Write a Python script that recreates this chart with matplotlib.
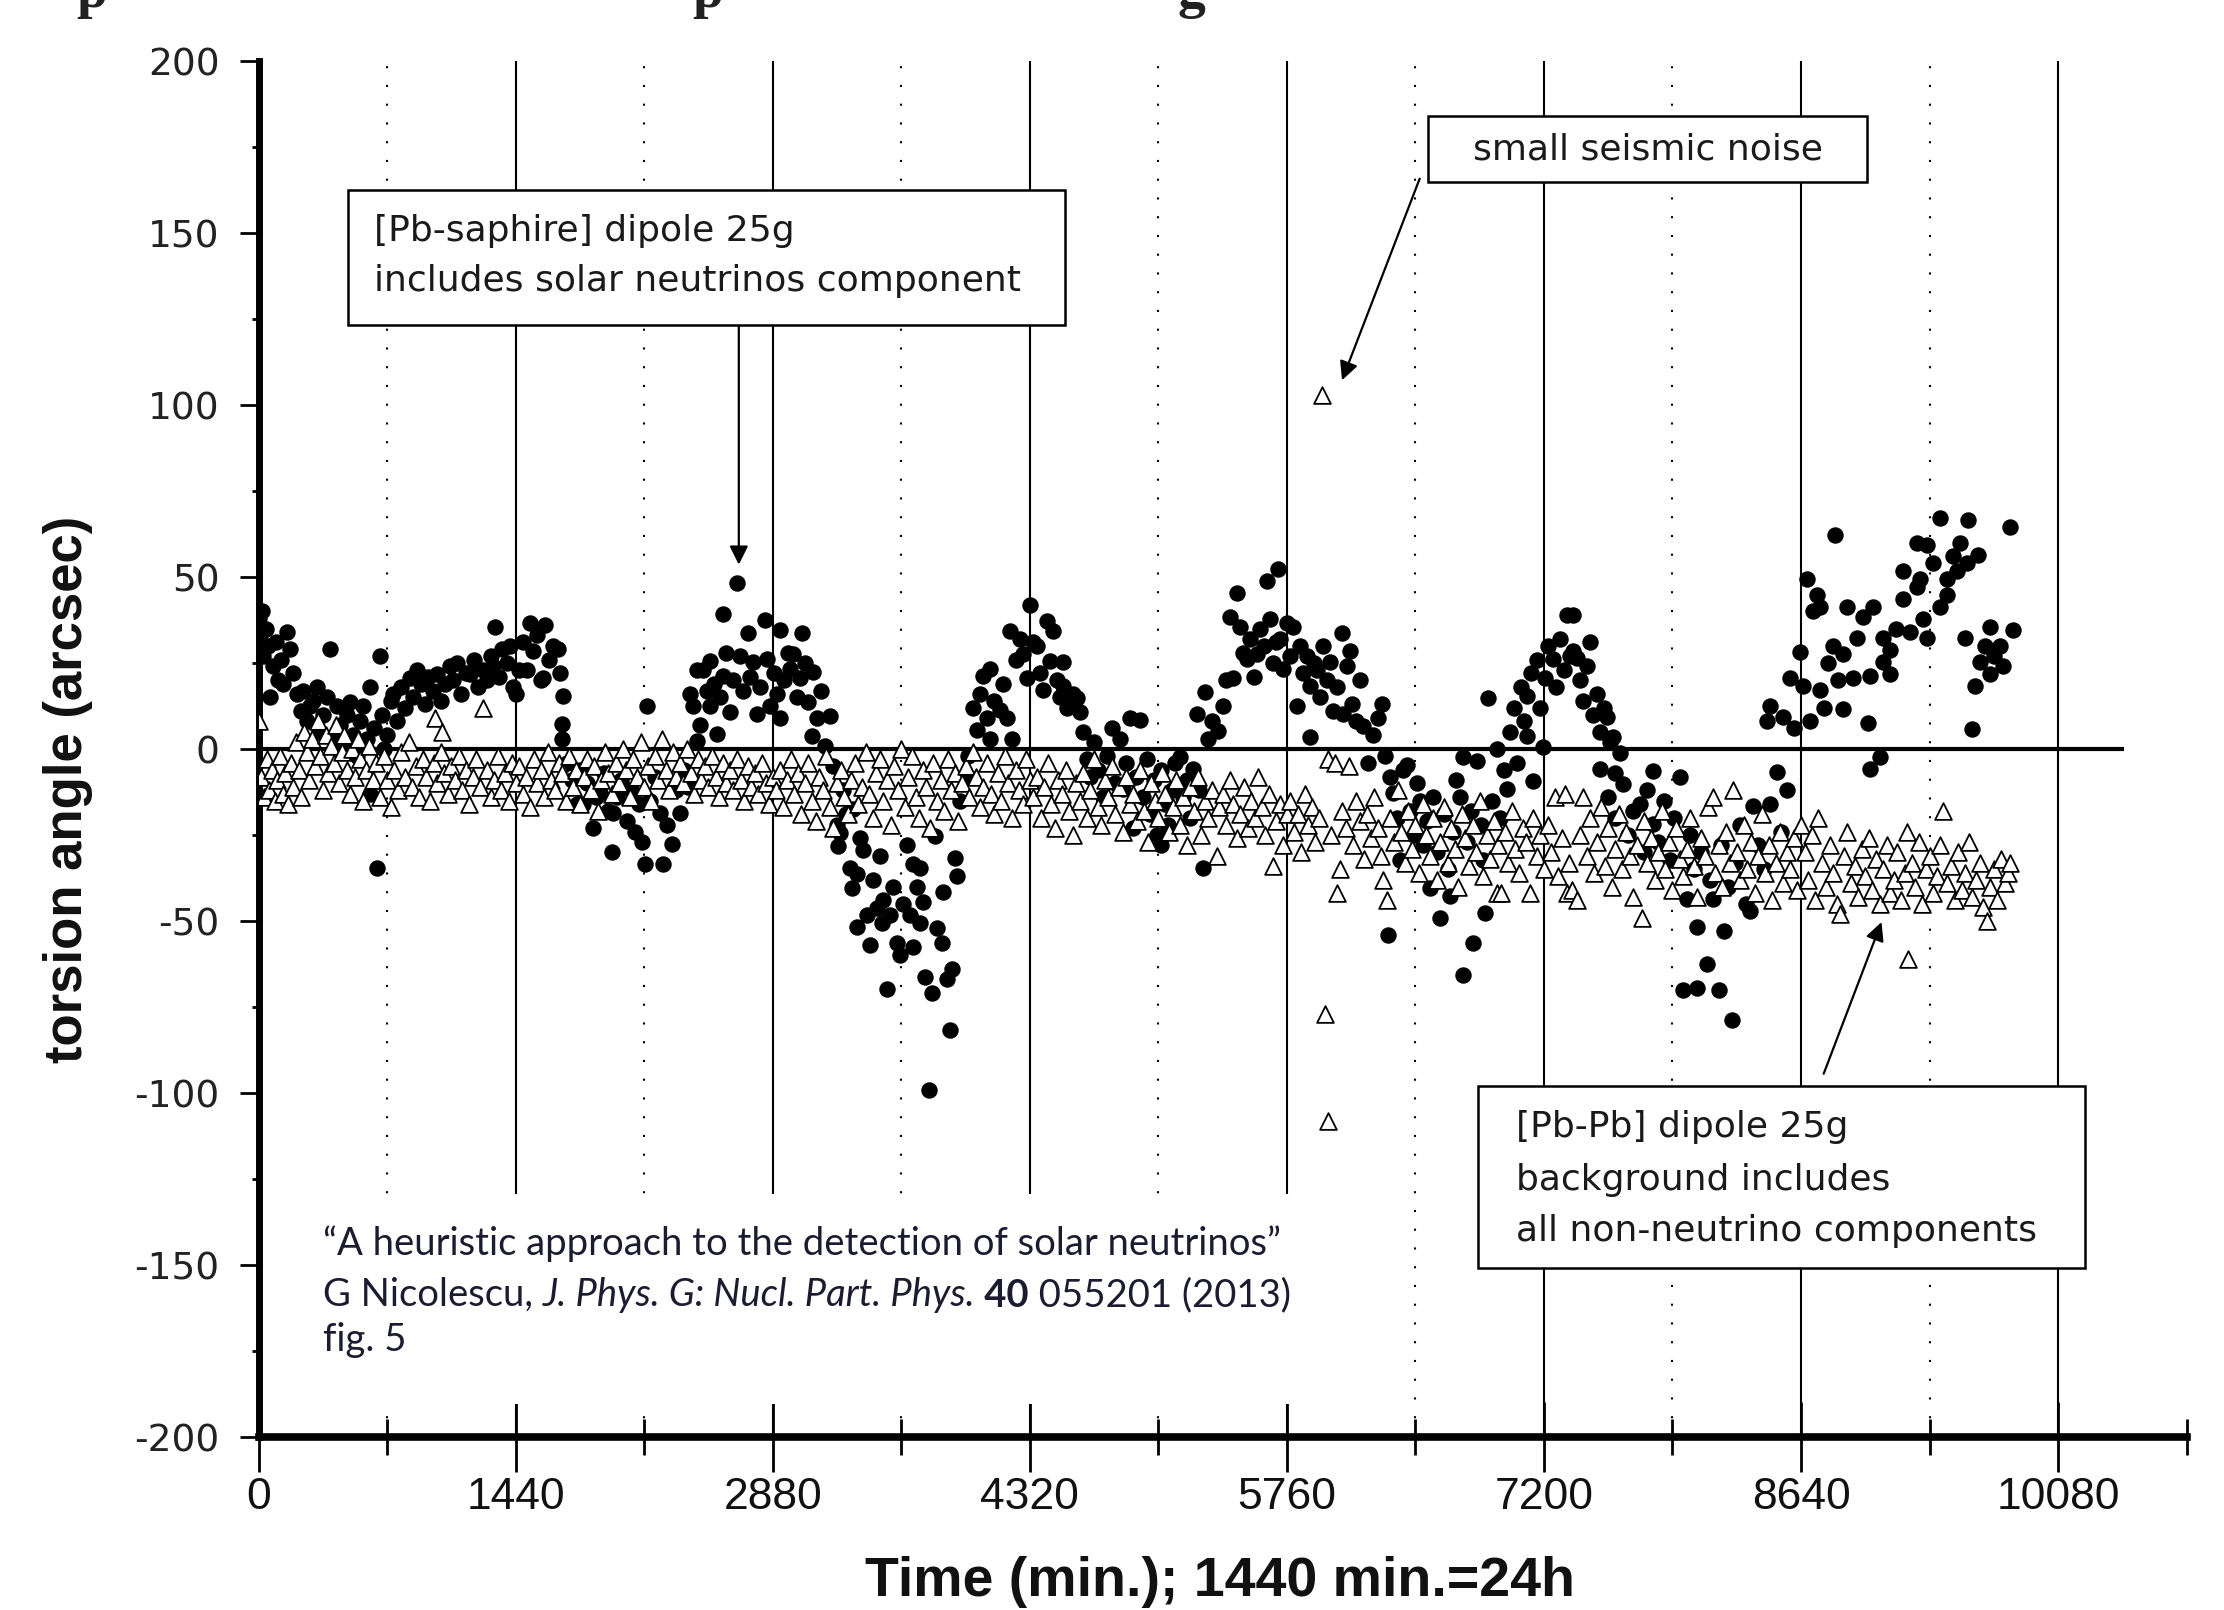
import matplotlib
matplotlib.use("Agg")
import matplotlib.pyplot as plt
from matplotlib.patches import Rectangle

plt.rcParams['axes.unicode_minus'] = False

# ---------------- data (time in min, torsion angle in arcsec) ----------------
# [Pb-saphire] dipole (filled circles)
saphire_day1 = [(0, 38), (8, 33), (17, 40), (25, 27), (40, 35), (55, 30), (64, 15), (83, 24), (95, 31),
                (110, 20), (125, 26), (139, 19), (157, 34), (176, 29), (195, 22), (215, 16), (235, 11),
                (251, 17), (270, 8), (288, 12.5), (305, 14), (325, 18), (340, 5), (360, 10), (381, 15),
                (400, 29), (415, 3), (437, 12.5), (455, 7), (475, 1), (495, 10), (512, 13.7), (530, 4),
                (550, -2), (570, 8), (587, 12.5), (605, 3), (624, 18), (625, -13), (645, 6), (661, -34.6),
                (680, 27), (690, 10), (705, 0), (720, 4), (740, 14), (755, 16), (775, 8), (800, 18),
                (820, 12), (848, 20.6), (866, 15), (886, 23), (910, 19), (930, 13), (950, 21), (975, 17),
                (998, 21.7), (1020, 14), (1045, 19), (1072, 24), (1090, 20), (1110, 25), (1135, 16),
                (1160, 22), (1184, 21.7), (1205, 26), (1230, 18), (1259, 23), (1280, 20), (1300, 27),
                (1315, 24), (1324, 35.5), (1345, 21), (1365, 29), (1390, 25), (1410, 30), (1427, 18)]
saphire_day2 = [(1440, 16), (1460, 23), (1480, 31), (1502, 23), (1520, 36.7), (1539, 28.6), (1560, 33),
                (1580, 20), (1595, 20.6), (1604, 36), (1625, 26), (1650, 30), (1679, 29), (1690, 22),
                (1707, 15.4), (1698, 7.4), (1700, 2.8), (1730, -4), (1755, -9), (1782, -16), (1800, -6),
                (1819, -16), (1840, -10), (1875, -23), (1890, -14), (1912, -12.8), (1935, -7), (1960, -18),
                (1978, -30), (1987, -18.5), (2006, -14), (2030, -9), (2062, -20.8), (2085, -12), (2110, -24),
                (2130, -16), (2146, -27), (2165, -33.4), (2174, 12.5), (2193, -15), (2220, -8), (2249, -18.5),
                (2267, -33.4), (2290, -22), (2314, -27.7), (2340, -12), (2360, -18.5), (2385, -6), (2405, -11),
                (2417, 16), (2435, 12.5), (2454, 23), (2454, 2.2), (2470, 7), (2491, 22.9), (2510, 17),
                (2529, 25.7), (2529, 12.5), (2550, 19), (2566, 4.5), (2585, 15), (2604, 39.3), (2603, 21.1),
                (2620, 28), (2641, 10.8), (2660, 20), (2678, 48.2), (2697, 26.9), (2715, 17), (2743, 33.6),
                (2750, 21), (2771, 25.2), (2790, 10.2), (2810, 18), (2837, 37.5), (2846, 26.3), (2865, 12.5)]
saphire_day3 = [(2885, 22), (2902, 16), (2921, 34.6), (2921, 9.1), (2945, 20), (2965, 28), (2977, 23.4),
                (2995, 27.5), (3015, 15), (3033, 20.6), (3042, 33.6), (3060, 25), (3080, 13.7), (3098, 3.9),
                (3108, 22.3), (3126, 9.1), (3150, 17), (3173, 1), (3201, 9.7), (3220, -5), (3238, -22),
                (3257, -24.3), (3248, -28.3), (3275, -12), (3290, -19), (3313, -34.6), (3322, -40.3),
                (3332, -17.4), (3350, -36.3), (3350, -51.8), (3370, -26), (3388, -29.4), (3406, -48.4),
                (3425, -57), (3440, -38), (3462, -46.1), (3480, -31), (3490, -50.7), (3500, -43.8),
                (3518, -69.7), (3537, -48.4), (3555, -40), (3574, -56.4), (3593, -59.9), (3610, -45),
                (3630, -28), (3649, -48.4), (3668, -33.4), (3668, -57.6), (3690, -40), (3705, -34.6),
                (3705, -50.7), (3724, -44.4), (3733, -66.2), (3757, -99), (3770, -70.8), (3789, -25.4),
                (3800, -52), (3827, -56.4), (3836, -41.5), (3854, -66.8), (3873, -81.7), (3882, -63.9),
                (3901, -31.7), (3911, -36.9), (3930, -15), (3950, -8), (3975, -2), (4004, 12), (4023, 5.6),
                (4040, 16), (4060, 21.1), (4080, 9), (4097, 23.4), (4097, 2.8), (4120, 14), (4153, 11.4),
                (4170, 19), (4190, 9.1), (4209, 34.4), (4219, 2.8), (4240, 26), (4265, 32), (4284, 27.5),
                (4303, 20.6)]
saphire_day4 = [(4321, 41.8), (4340, 31), (4359, 29.8), (4375, 22), (4396, 17.1), (4415, 37.2), (4433, 25.7),
                (4452, 34.4), (4470, 20), (4490, 15), (4508, 25.2), (4508, 18.3), (4530, 12), (4560, 16),
                (4583, 14.8), (4601, 10.8), (4620, 5), (4640, -3), (4657, -8.2), (4680, 2), (4700, -6),
                (4732, -13.9), (4755, -2), (4780, 6), (4800, -10), (4826, 2.8), (4844, -11.6), (4860, -4),
                (4881, 9.1), (4900, -23.1), (4915, -8), (4938, 8.5), (4955, -14), (4975, -3), (4995, -19),
                (5015, -9), (5035, -25), (5056, -28), (5055, -6), (5075, -16), (5095, -22), (5115, -12),
                (5135, -4), (5162, -2.4), (5180, -14), (5200, -9), (5218, -20), (5236, -5.9), (5255, 10.2),
                (5270, -12), (5292, -34.6), (5302, 16.6), (5320, 3), (5340, 8), (5376, 5.1), (5404, 12.5),
                (5420, 20), (5442, 38.4), (5460, 20.6), (5479, 45.3), (5498, 35.5), (5515, 28), (5535, 26.3),
                (5555, 32), (5575, 21), (5591, 27.5), (5610, 35), (5630, 30), (5647, 48.7), (5666, 37.8),
                (5680, 25), (5700, 31), (5713, 52.2), (5722, 32.1), (5741, 23.4)]
saphire_day5 = [(5759, 36.7), (5775, 27), (5797, 35.5), (5815, 12.5), (5834, 29.8), (5850, 22), (5870, 27),
                (5890, 18.3), (5890, 3.6), (5910, 25), (5927, 22.9), (5945, 15), (5965, 30), (5985, 20),
                (6002, 25.2), (6020, 11), (6040, 18), (6067, 33.8), (6077, 10.2), (6095, 24), (6114, 28.6),
                (6123, 13.1), (6150, 8), (6170, 20), (6189, 6.8), (6217, -4.1), (6240, 4), (6270, 9),
                (6291, 13.1), (6310, -2), (6329, -54.1), (6340, -8), (6357, -12.8), (6375, -20), (6394, -32.3),
                (6410, -6), (6431, -4.7), (6450, -18), (6470, -25), (6490, -10), (6506, -15), (6525, -28),
                (6545, -21), (6562, -40.3), (6580, -14), (6600, -30), (6618, -49), (6640, -19), (6660, -35),
                (6674, -42.6), (6690, -24), (6710, -9), (6730, -13.9), (6749, -65.6), (6749, -2.4), (6770, -27),
                (6790, -18), (6805, -56.4), (6824, -3.6), (6845, -22), (6861, -32.3), (6870, -47.8),
                (6889, 14.8), (6910, -15), (6936, 0), (6955, -20), (6975, -6), (6992, -11.6), (7010, 5),
                (7030, 12), (7050, -4), (7070, 18), (7090, 8), (7104, 15.4), (7104, 3.9), (7125, 22),
                (7141, -9.3), (7160, 26), (7180, 12), (7197, 0.5)]
saphire_day6 = [(7206, 20.6), (7225, 30), (7253, 26.3), (7270, 18), (7290, 32), (7310, 23), (7328, 39),
                (7345, 27), (7365, 28.6), (7365, 39), (7384, 26.4), (7400, 20), (7420, 14), (7440, 24),
                (7459, 31), (7475, 10), (7496, 16.1), (7515, 5), (7535, 12), (7552, 9.2), (7570, 2),
                (7589, 3.4), (7600, -7), (7627, -1.1), (7515, -5.7), (7560, -14), (7600, -20), (7645, -10.3),
                (7670, -25), (7700, -18), (7739, -16.1), (7760, -30), (7780, -12), (7813, -6.3), (7813, -21.8),
                (7840, -27), (7870, -15), (7907, -32.2), (7930, -20), (7963, -8), (7981, -70.1), (8000, -43.7),
                (8020, -25), (8040, -35), (8056, -51.7), (8056, -69.5), (8080, -30), (8112, -62.6), (8130, -38),
                (8149, -43.7), (8178, -70.1), (8190, -28), (8206, -52.9), (8230, -40), (8252, -78.7),
                (8270, -33), (8300, -22), (8330, -45), (8355, -47.1), (8373, -16.7), (8400, -28), (8430, -35),
                (8467, -16.1), (8504, -6.6), (8530, -24), (8560, -12), (8448, 8), (8467, 12.6), (8541, 9.2),
                (8579, 20.7), (8600, 6), (8635, 28.2)]
saphire_day7 = [(8654, 18.4), (8672, 49.4), (8691, 8), (8710, 40.2), (8728, 44.8), (8747, 41.4), (8747, 17.2),
                (8770, 12), (8790, 25), (8822, 29.9), (8831, 62.1), (8850, 20), (8878, 27.6), (8878, 11.5),
                (8896, 41.4), (8934, 20.7), (8952, 32.2), (8990, 38.5), (9018, 7.5), (9027, 21.3), (9027, -5.7),
                (9046, 41.4), (9083, -2.3), (9102, 32.2), (9102, 25.3), (9139, 28.7), (9139, 21.8), (9170, 35),
                (9214, 51.7), (9214, 43.7), (9251, 33.9), (9289, 59.8), (9289, 47.1), (9307, 49.4),
                (9326, 37.9), (9344, 59.2), (9344, 32.2), (9382, 54), (9419, 67.2), (9419, 41.4), (9457, 49.4),
                (9457, 44.8), (9490, 56), (9512, 51.7), (9531, 59.8), (9559, 32.2), (9569, 54), (9578, 66.7),
                (9597, 5.7), (9615, 18.4), (9634, 56.3), (9643, 25.3), (9670, 30), (9699, 35.6), (9699, 21.8),
                (9720, 27), (9755, 29.9), (9774, 24.1), (9811, 64.4), (9830, 34.5)]

# [Pb-Pb] dipole background (open triangles)
pbpb_day1 = [(0, 8), (15, -8), (30, -14), (45, -3), (60, -12), (75, -6), (90, -15), (105, -9), (120, -2),
             (135, -13), (150, -7), (165, -16), (180, -4), (195, -11), (210, 2), (225, -6), (240, -14), (255, 5),
             (270, -1), (285, -9), (300, 3), (315, -5), (330, 8), (345, -2), (360, -12), (375, 4), (390, -7),
             (405, 1), (420, -4), (435, 7), (450, -10), (465, -1), (480, 4), (495, -6), (510, -13), (525, 0),
             (540, -8), (555, 3), (570, -3), (585, -15), (600, -6), (620, 1), (640, -9), (660, -4), (680, -14),
             (700, -2), (720, -9), (740, -17), (760, -6), (780, -12), (800, -1), (820, -8), (840, 2),
             (860, -11), (880, -5), (900, -14), (920, -3), (940, -8), (960, -15), (980, -4), (990, 9),
             (1000, -10), (1020, -1), (1030, 5), (1040, -7), (1060, -13), (1080, -5), (1100, -9), (1120, -2),
             (1140, -12), (1160, -6), (1180, -16), (1200, -8), (1220, -3), (1240, -11), (1259, 12),
             (1280, -6), (1300, -14), (1320, -9), (1340, -2), (1360, -12), (1380, -7), (1400, -15),
             (1420, -4), (1440, -10)]
pbpb_day2 = [(1460, -5), (1480, -13), (1500, -8), (1520, -17), (1540, -3), (1560, -10), (1580, -6), (1600, -14),
             (1620, -1), (1640, -9), (1660, -12), (1680, -4), (1700, -7), (1720, -15), (1740, -2), (1760, -11),
             (1780, -6), (1800, -16), (1820, -8), (1840, -3), (1860, -12), (1880, -5), (1900, -18), (1920, -9),
             (1940, -1), (1960, -7), (1980, -13), (2000, -4), (2020, -10), (2040, 0), (2060, -6), (2080, -14),
             (2100, -3), (2120, -8), (2140, 2), (2160, -11), (2180, -5), (2200, -15), (2220, -2), (2240, -9),
             (2260, 3), (2280, -6), (2300, -12), (2320, -1), (2340, -8), (2360, -4), (2380, -10), (2400, 0),
             (2420, -7), (2440, -13), (2460, -3), (2480, -9), (2500, -5), (2520, -11), (2540, -2), (2560, -8),
             (2580, -14), (2600, -4), (2620, -10), (2640, -6), (2660, -12), (2680, -3), (2700, -9),
             (2720, -15), (2740, -5), (2760, -11), (2780, -7), (2800, -13), (2820, -4), (2840, -10),
             (2860, -16), (2880, -8)]
pbpb_day3 = [(2900, -12), (2920, -6), (2940, -17), (2960, -9), (2980, -3), (3000, -13), (3020, -7), (3040, -19),
             (3060, -10), (3080, -4), (3100, -15), (3120, -21), (3140, -8), (3160, -12), (3180, -2), (3200, -17),
             (3220, -23), (3240, -10), (3260, -6), (3280, -14), (3300, -19), (3320, -9), (3340, -4), (3360, -16),
             (3380, -11), (3400, -1), (3420, -13), (3440, -20), (3460, -7), (3480, -3), (3500, -15), (3520, -9),
             (3540, -22), (3560, -5), (3580, -12), (3600, 0), (3620, -17), (3640, -8), (3660, -2), (3680, -14),
             (3700, -20), (3720, -6), (3740, -11), (3760, -23), (3780, -4), (3800, -15), (3820, -9),
             (3840, -18), (3860, -3), (3880, -12), (3900, -7), (3920, -21), (3940, -10), (3960, -5),
             (3980, -14), (4000, -1), (4020, -8), (4040, -17), (4060, -11), (4080, -4), (4100, -13),
             (4120, -19), (4140, -7), (4160, -15), (4180, -2), (4200, -10), (4220, -20), (4240, -6),
             (4260, -12), (4280, -16), (4300, -3), (4320, -9)]
pbpb_day4 = [(4340, -14), (4360, -8), (4380, -20), (4400, -11), (4420, -4), (4440, -16), (4460, -23), (4480, -9),
             (4500, -13), (4520, -6), (4540, -18), (4560, -25), (4580, -10), (4600, -15), (4620, -7),
             (4640, -20), (4660, -12), (4680, -3), (4700, -17), (4720, -22), (4740, -9), (4760, -14),
             (4780, -5), (4800, -19), (4820, -11), (4840, -24), (4860, -8), (4880, -16), (4900, -13),
             (4920, -21), (4940, -6), (4960, -18), (4980, -27), (5000, -10), (5020, -15), (5040, -20),
             (5060, -7), (5080, -13), (5100, -24), (5120, -17), (5140, -9), (5160, -22), (5180, -14),
             (5200, -28), (5220, -11), (5240, -18), (5260, -8), (5280, -25), (5300, -15), (5320, -20),
             (5340, -12), (5367, -31), (5380, -17), (5400, -13), (5420, -22), (5440, -9), (5460, -16),
             (5480, -26), (5500, -19), (5520, -11), (5540, -23), (5560, -15), (5580, -20), (5600, -8),
             (5620, -17), (5640, -25), (5660, -13), (5684, -34), (5700, -21), (5720, -16), (5740, -28),
             (5760, -19)]
pbpb_day5 = [(5780, -15), (5800, -24), (5820, -19), (5840, -30), (5860, -13), (5880, -22), (5900, -17),
             (5920, -27), (5940, -20), (5958, 103), (5973, -77), (5989, -108), (5990, -3), (6010, -25),
             (6030, -4), (6039, -42), (6058, -35), (6070, -18), (6090, -23), (6110, -5), (6130, -28),
             (6150, -15), (6170, -21), (6190, -32), (6210, -19), (6230, -26), (6250, -14), (6270, -23),
             (6290, -31), (6301, -38), (6319, -44), (6340, -20), (6360, -27), (6380, -12), (6400, -24),
             (6420, -33), (6440, -18), (6460, -29), (6480, -22), (6500, -36), (6520, -16), (6540, -25),
             (6560, -31), (6580, -20), (6600, -38), (6620, -27), (6640, -17), (6660, -33), (6680, -23),
             (6700, -29), (6720, -40), (6740, -19), (6760, -26), (6780, -34), (6800, -22), (6820, -30),
             (6840, -15), (6860, -37), (6880, -25), (6900, -32), (6920, -21), (6935, -42), (6940, -28),
             (6960, -42), (6980, -24), (7000, -33), (7020, -18), (7040, -29), (7060, -36), (7080, -23),
             (7100, -27), (7122, -42), (7140, -20), (7160, -31), (7180, -25), (7200, -35)]
pbpb_day6 = [(7220, -22), (7240, -30), (7260, -14), (7280, -37), (7300, -26), (7320, -13), (7328, -42),
             (7340, -33), (7360, -41), (7384, -44), (7400, -25), (7421, -14), (7440, -31), (7460, -20),
             (7480, -36), (7500, -27), (7520, -17), (7540, -34), (7560, -23), (7580, -40), (7600, -29),
             (7620, -19), (7640, -35), (7660, -24), (7680, -31), (7700, -43), (7720, -28), (7748, -49),
             (7760, -21), (7780, -33), (7800, -26), (7820, -38), (7840, -30), (7860, -18), (7880, -35),
             (7900, -27), (7920, -41), (7940, -23), (7960, -32), (7980, -37), (8000, -29), (8020, -20),
             (8040, -34), (8060, -43), (8080, -26), (8100, -31), (8120, -17), (8149, -14), (8160, -36),
             (8180, -28), (8200, -40), (8220, -24), (8240, -33), (8261, -12), (8280, -30), (8300, -38),
             (8320, -22), (8340, -35), (8360, -27), (8380, -42), (8400, -31), (8420, -19), (8440, -36),
             (8460, -28), (8480, -44), (8500, -33), (8520, -24), (8540, -39), (8560, -30), (8580, -35),
             (8600, -26), (8620, -41), (8640, -22)]
pbpb_day7 = [(8660, -30), (8680, -38), (8700, -25), (8720, -44), (8738, -20), (8760, -33), (8780, -40),
             (8800, -28), (8820, -36), (8840, -45), (8859, -48), (8880, -31), (8900, -24), (8920, -39),
             (8940, -34), (8960, -43), (8980, -29), (9000, -37), (9020, -26), (9040, -41), (9060, -32),
             (9080, -45), (9100, -35), (9120, -28), (9140, -42), (9160, -38), (9180, -30), (9200, -44),
             (9220, -36), (9232, -24), (9241, -61), (9260, -33), (9280, -40), (9300, -27), (9320, -45),
             (9340, -35), (9360, -31), (9380, -42), (9400, -37), (9420, -28), (9438, -18), (9460, -39),
             (9480, -34), (9500, -44), (9520, -30), (9540, -41), (9560, -36), (9580, -27), (9600, -43),
             (9620, -38), (9640, -33), (9660, -46), (9680, -50), (9700, -40), (9720, -35), (9740, -44),
             (9760, -32), (9780, -39), (9800, -36), (9811, -33)]

solid_days = [1440, 2880, 4320, 5760, 7200, 8640, 10080]
dotted_halfdays = [720, 2160, 3600, 5040, 6480, 7920, 9360]
x_major = [0, 1440, 2880, 4320, 5760, 7200, 8640, 10080]
x_minor = [720, 2160, 3600, 5040, 6480, 7920, 9360, 10800]
y_major = [-200, -150, -100, -50, 0, 50, 100, 150, 200]
y_minor = [-175, -125, -75, -25, 25, 75, 125, 175]

saphire = saphire_day1 + saphire_day2 + saphire_day3 + saphire_day4 + saphire_day5 + saphire_day6 + saphire_day7
pbpb = pbpb_day1 + pbpb_day2 + pbpb_day3 + pbpb_day4 + pbpb_day5 + pbpb_day6 + pbpb_day7
sap_t = [p[0] for p in saphire]
sap_v = [p[1] for p in saphire]
pb_t = [p[0] for p in pbpb]
pb_v = [p[1] for p in pbpb]

# ---------------- figure ----------------
W, H = 2224, 1610
fig = plt.figure(figsize=(W / 100, H / 100), dpi=100)
ax = fig.add_axes([258.6 / W, 173 / H, 1928 / W, 1376 / H])
ax.set_xlim(0, 10800)
ax.set_ylim(-200, 200)

for s in ['top', 'right']:
    ax.spines[s].set_visible(False)
ax.spines['left'].set_linewidth(5)
ax.spines['bottom'].set_linewidth(5.5)

ax.set_xticks(x_major)
ax.set_xticks(x_minor, minor=True)
ax.set_xticklabels([str(v) for v in x_major], fontsize=32, family='Liberation Sans', color='#111111')
ax.set_yticks(y_major)
ax.set_yticks(y_minor, minor=True)
ax.set_yticklabels([str(v) for v in y_major], fontsize=27, family='DejaVu Sans', color='#222222')
ax.tick_params(axis='x', which='major', direction='inout', length=50, width=2, pad=4)
ax.tick_params(axis='x', which='minor', direction='inout', length=26, width=2)
ax.tick_params(axis='y', which='major', direction='out', length=14, width=2, pad=14)
ax.tick_params(axis='y', which='minor', direction='out', length=5, width=2)

for d in solid_days:
    ax.axvline(d, color='black', lw=1.5, zorder=1)
for d in dotted_halfdays:
    ax.axvline(d, color='black', lw=1.5, linestyle=(0, (1, 8)), zorder=1)
ax.hlines(0, 0, 10450, color='black', lw=3, zorder=2)

ax.scatter(sap_t, sap_v, s=140, marker='o', c='black', linewidths=0, zorder=4)
ax.scatter(pb_t, pb_v, s=145, marker='^', facecolors='white', edgecolors='black', linewidths=1.3, zorder=5)

# ---------------- annotations ----------------
box_font = dict(family='DejaVu Sans', fontsize=26, color='#1a1a1a')

ax.add_patch(Rectangle((498, 123.3), 4020, 39.2, facecolor='white', edgecolor='black', lw=1.8, zorder=6))
ax.text(649, 150.5, '[Pb-saphire] dipole 25g', va='center', ha='left', zorder=7, **box_font)
ax.text(649, 136.1, 'includes solar neutrinos component', va='center', ha='left', zorder=7, **box_font)

ax.add_patch(Rectangle((6551, 164.9), 2461, 19.0, facecolor='white', edgecolor='black', lw=1.8, zorder=6))
ax.text(7781, 174.4, 'small seismic noise', va='center', ha='center', zorder=7, **box_font)

ax.add_patch(Rectangle((6828, -150.9), 3402, 52.8, facecolor='white', edgecolor='black', lw=1.8, zorder=6))
ax.text(7042, -110.0, '[Pb-Pb] dipole 25g', va='center', ha='left', zorder=7, **box_font)
ax.text(7042, -125.4, 'background includes', va='center', ha='left', zorder=7, **box_font)
ax.text(7042, -140.2, 'all non-neutrino components', va='center', ha='left', zorder=7, **box_font)

arrow = dict(arrowstyle='-|>', color='black', lw=1.6, mutation_scale=28, shrinkA=0, shrinkB=0)
ax.annotate('', xy=(2690, 53.6), xytext=(2690, 122.9), arrowprops=arrow, zorder=6)
ax.annotate('', xy=(6069, 107.2), xytext=(6504, 165.8), arrowprops=arrow, zorder=6)
ax.annotate('', xy=(9091, -50.3), xytext=(8767, -94.4), arrowprops=arrow, zorder=6)

# white area behind the citation (interrupts grid lines)
ax.add_patch(Rectangle((40, -190.5), 5860, 61, facecolor='white', edgecolor='none', zorder=2.2))

cit = dict(family='Lato', fontsize=27.5, color='#1c1c30')
fx = 323 / W
fig.text(fx, (H - 1255) / H, '\u201cA heuristic approach to the detection of solar neutrinos\u201d',
         va='baseline', ha='left', **cit)
p1 = fig.text(fx, (H - 1306) / H, 'G Nicolescu, ', va='baseline', ha='left', **cit)
p2 = ax.annotate('J. Phys. G: Nucl. Part. Phys.', xy=(1, 0), xycoords=p1, va='bottom', ha='left',
                 style='italic', annotation_clip=False, **cit)
p3 = ax.annotate(' 40', xy=(1, 0), xycoords=p2, va='bottom', ha='left', fontweight='bold',
                 annotation_clip=False, **cit)
p4 = ax.annotate(' 055201 (2013)', xy=(1, 0), xycoords=p3, va='bottom', ha='left',
                 annotation_clip=False, **cit)
fig.text(fx, (H - 1351) / H, 'fig. 5', va='baseline', ha='left', **cit)

# axis titles
fig.text(68 / W, 0.51, 'torsion angle (arcsec)', rotation=90, va='center', ha='center',
         family='Liberation Sans', fontweight='bold', fontsize=38, color='#111111')
fig.text(1220 / W, 14 / H, 'Time (min.); 1440 min.=24h', va='baseline', ha='center',
         family='Liberation Sans', fontweight='bold', fontsize=40, color='#111111')

# remnants of the cropped heading line above the chart
for gx, ch in [(92, 'p'), (708, 'p'), (1191, 'g')]:
    fig.text(gx / W, 1 - 7 / H, ch, va='baseline', ha='center', family='Liberation Serif',
             fontweight='bold', fontsize=40, color='#222222')

fig.savefig('out.png', dpi=100)
